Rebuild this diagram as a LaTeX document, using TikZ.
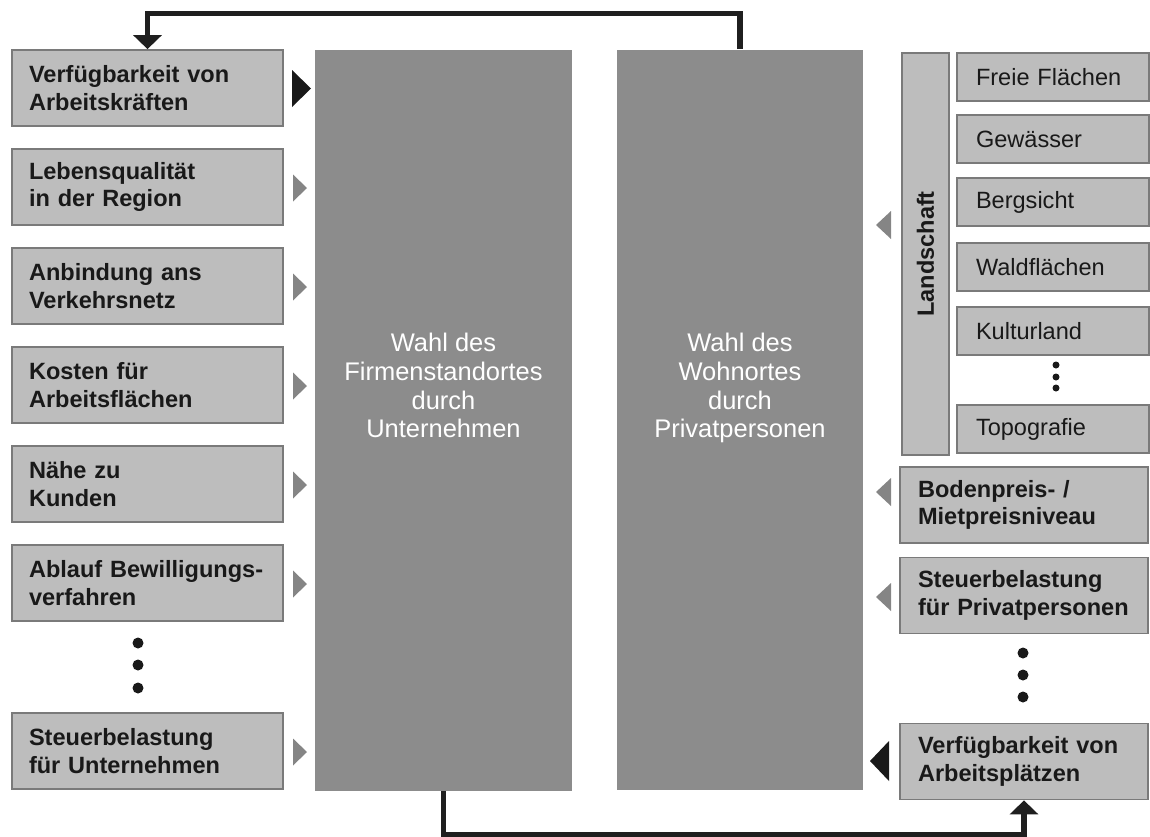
\documentclass[tikz,border=0pt]{standalone}
\usepackage{fontspec}
\setmainfont{Liberation Sans}
\usetikzlibrary{arrows.meta}
\colorlet{boxfill}{black!26}
\colorlet{boxline}{black!52}
\colorlet{bigfill}{black!45}
\colorlet{tipgray}{black!48}
\colorlet{ink}{black!90}

\begin{document}
\begin{tikzpicture}[
            x=0.02cm, y=-0.02cm,
            every node/.append style={text=ink},
            factor/.style={draw=boxline, fill=boxfill, line width=1pt,
                minimum height=1.52cm, inner ysep=0pt, align=left,
                font=\bfseries\fontsize{13.4}{15.7}\selectfont},
            leftfactor/.style={factor, inner xsep=0.34cm, text width=4.74cm},
            rightfactor/.style={factor, inner xsep=0.36cm, text width=4.24cm},
            landitem/.style={draw=boxline, fill=boxfill, line width=1pt,
                minimum height=0.96cm, inner ysep=0pt, inner xsep=0.38cm,
                text width=3.08cm, align=left,
                font=\fontsize{13.4}{15.7}\selectfont},
            bigbox/.style={fill=bigfill, minimum width=#1, minimum height=14.82cm,
                inner sep=0pt},
            bigtext/.style={text=white!96, align=center, inner sep=0pt,
                anchor=north, font=\fontsize{14.5}{16.3}\selectfont},
            link/.style={line width=3pt, black!88,
                -{Triangle[width=0.56cm,length=0.28cm]}}
        ]
            \useasboundingbox (0,0) rectangle (1150,836);

            \node [bigbox=5.14cm] (firma) at (443.5,420.5) {};
            \node [bigbox=4.92cm] (wohnort) at (740,420) {};
            \node [bigtext] (firmatext) at (443.5,333) {Wahl des\\Firmenstandortes\\durch\\Unternehmen};
            \node [bigtext] (wohntext) at (740,333) {Wahl des\\Wohnortes\\durch\\Privatpersonen};

            \node [leftfactor] (kraefte) at (147.5,88) {Verfügbarkeit von\\Arbeitskräften};
            \node [leftfactor] (lebensq) at (147.5,187) {Lebensqualität\\in der Region};
            \node [leftfactor] (verkehr) at (147.5,286) {Anbindung ans\\Verkehrsnetz};
            \node [leftfactor] (kosten) at (147.5,385) {Kosten für\\Arbeitsflächen};
            \node [leftfactor] (kunden) at (147.5,484) {Nähe zu\\Kunden};
            \node [leftfactor] (bewill) at (147.5,583) {Ablauf Bewilligungs-\\verfahren};
            \node [leftfactor] (steuerfirma) at (147.5,751) {Steuerbelastung\\für Unternehmen};

            \node [draw=boxline, fill=boxfill, line width=1pt, rotate=90,
                minimum width=8.04cm, minimum height=0.94cm, inner sep=0pt,
                font=\bfseries\fontsize{13.4}{15.7}\selectfont] (land) at (925.5,254) {Landschaft};
            \node [landitem] (frei) at (1053,77) {Freie Flächen};
            \node [landitem] (gewaesser) at (1053,139) {Gewässer};
            \node [landitem] (berg) at (1053,202) {Bergsicht};
            \node [landitem] (wald) at (1053,267) {Waldflächen};
            \node [landitem] (kultur) at (1053,331) {Kulturland};
            \node [landitem] (topo) at (1053,429) {Topografie};

            \node [rightfactor] (boden) at (1024,505) {Bodenpreis- /\\Mietpreisniveau};
            \node [rightfactor] (steuerpriv) at (1024,595.5) {Steuerbelastung\\für Privatpersonen};
            \node [rightfactor] (arbeit) at (1024,761.5) {Verfügbarkeit von\\Arbeitsplätzen};

            \fill [ink] (292,70) -- (292,107) -- (311,88.5) -- cycle;
            \foreach \y in {188,287,386,485,584,752}
                \fill [tipgray] (293,\y-13.5) -- (293,\y+13.5) -- (307,\y) -- cycle;
            \foreach \y in {225,492,597}
                \fill [tipgray] (891,\y-14) -- (891,\y+14) -- (876,\y) -- cycle;
            \fill [ink] (889,741) -- (889,781) -- (870,761) -- cycle;

            \foreach \y in {643,665,688}
                \fill [ink] (138,\y) circle [radius=0.11cm];
            \foreach \y in {653,675,697}
                \fill [ink] (1023,\y) circle [radius=0.11cm];
            \foreach \y in {365,377,388}
                \fill [ink] (1056,\y) circle [radius=0.07cm];

            \draw [link] (wohnort.north) -- ++(0,-36) -| (kraefte.north);
            \draw [link] (firma.south) -- ++(0,43) -| (arbeit.south);
        \end{tikzpicture}
\end{document}
